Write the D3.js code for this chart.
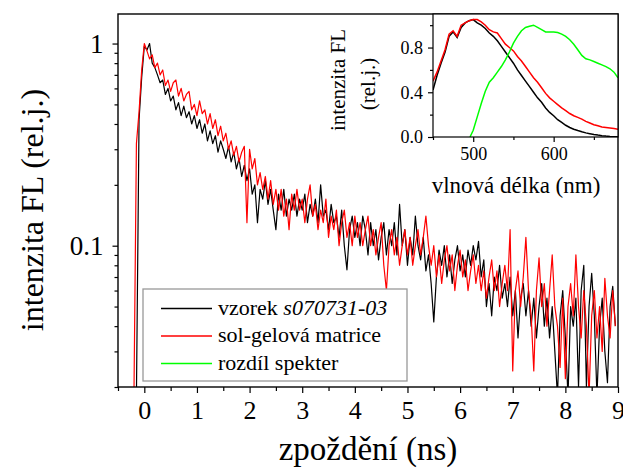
<!DOCTYPE html>
<html>
<head>
<meta charset="utf-8">
<script src="https://cdn.jsdelivr.net/npm/d3@7"></script>
<style>
  body { margin: 0; background: #fff; }
  svg text { font-family: 'Liberation Serif', 'Times New Roman', serif; fill: #000; }
</style>
</head>
<body>
<div id="chart"></div>
<script>
// fluorescence decay (ns), sampled every 0.05 ns starting at -0.2 ns
var decayCount = 184
var vzorek = [
  0.015, 0.018, 0.42, 0.68, 0.97, 0.93, 1.00, 0.80, 0.76, 0.70,
  0.64, 0.66, 0.56, 0.60, 0.52, 0.55, 0.47, 0.51, 0.44, 0.49,
  0.43, 0.46, 0.40, 0.44, 0.38, 0.42, 0.36, 0.40, 0.33, 0.37,
  0.32, 0.35, 0.29, 0.33, 0.30, 0.27, 0.31, 0.26, 0.29, 0.24,
  0.27, 0.22, 0.25, 0.21, 0.24, 0.18, 0.20, 0.13, 0.19, 0.17,
  0.21, 0.16, 0.19, 0.15, 0.12, 0.18, 0.15, 0.19, 0.14, 0.17,
  0.15, 0.18, 0.14, 0.17, 0.15, 0.18, 0.13, 0.16, 0.14, 0.17,
  0.13, 0.20, 0.14, 0.15, 0.12, 0.16, 0.13, 0.14, 0.11, 0.15,
  0.10, 0.076, 0.12, 0.14, 0.11, 0.13, 0.10, 0.14, 0.12, 0.09,
  0.13, 0.10, 0.12, 0.085, 0.11, 0.13, 0.09, 0.12, 0.10, 0.13,
  0.09, 0.16, 0.10, 0.12, 0.08, 0.11, 0.09, 0.14, 0.10, 0.085,
  0.11, 0.075, 0.09, 0.065, 0.042, 0.07, 0.095, 0.08, 0.10, 0.07,
  0.09, 0.065, 0.085, 0.10, 0.075, 0.09, 0.07, 0.095, 0.08, 0.10,
  0.085, 0.105, 0.07, 0.085, 0.05, 0.065, 0.045, 0.07, 0.06, 0.08,
  0.055, 0.065, 0.05, 0.07, 0.045, 0.06, 0.035, 0.055, 0.065, 0.045,
  0.06, 0.04, 0.055, 0.035, 0.05, 0.065, 0.04, 0.055, 0.035, 0.05,
  0.03, 0.018, 0.045, 0.06, 0.035, 0.018, 0.05, 0.04, 0.055, 0.02,
  0.06, 0.08, 0.02, 0.05, 0.073, 0.045, 0.018, 0.04, 0.055, 0.03,
  0.021, 0.05, 0.063, 0.04
]
var matrice = [
  0.015, 0.32, 0.46, 0.74, 1.00, 0.92, 0.84, 0.88, 0.76, 0.80,
  0.70, 0.74, 0.62, 0.66, 0.58, 0.64, 0.66, 0.55, 0.60, 0.52,
  0.56, 0.58, 0.47, 0.50, 0.44, 0.52, 0.45, 0.47, 0.40, 0.45,
  0.38, 0.42, 0.35, 0.39, 0.33, 0.36, 0.30, 0.33, 0.28, 0.31,
  0.26, 0.29, 0.31, 0.13, 0.30, 0.24, 0.27, 0.20, 0.23, 0.19,
  0.22, 0.17, 0.21, 0.16, 0.19, 0.15, 0.19, 0.14, 0.17, 0.12,
  0.18, 0.15, 0.19, 0.15, 0.17, 0.13, 0.17, 0.20, 0.14, 0.16,
  0.12, 0.15, 0.13, 0.17, 0.11, 0.14, 0.12, 0.15, 0.10, 0.13,
  0.15, 0.11, 0.13, 0.10, 0.14, 0.11, 0.13, 0.10, 0.12, 0.14,
  0.10, 0.12, 0.09, 0.11, 0.13, 0.08, 0.06, 0.10, 0.12, 0.09,
  0.11, 0.08, 0.10, 0.12, 0.09, 0.11, 0.08, 0.10, 0.12, 0.09,
  0.11, 0.14, 0.10, 0.08, 0.10, 0.07, 0.09, 0.065, 0.085, 0.10,
  0.075, 0.09, 0.06, 0.08, 0.095, 0.07, 0.085, 0.06, 0.075, 0.09,
  0.065, 0.08, 0.06, 0.075, 0.055, 0.07, 0.085, 0.06, 0.075, 0.05,
  0.065, 0.08, 0.06, 0.12, 0.024, 0.06, 0.075, 0.05, 0.07, 0.11,
  0.06, 0.045, 0.024, 0.06, 0.087, 0.05, 0.065, 0.04, 0.06, 0.09,
  0.05, 0.04, 0.025, 0.055, 0.022, 0.05, 0.065, 0.045, 0.09, 0.05,
  0.035, 0.06, 0.04, 0.018, 0.045, 0.06, 0.035, 0.05, 0.03, 0.069,
  0.045, 0.035, 0.06, 0.04
]

// inset spectra
var specWl = [450, 455, 460, 465, 470, 475, 480, 485, 490, 495, 500, 505, 510, 515, 520, 525, 530, 535, 540, 545,
  550, 555, 560, 565, 570, 575, 580, 585, 590, 595, 600, 605, 610, 615, 620, 625, 630, 635, 640, 645,
  650, 655, 660, 665, 670, 675, 680]
var specVzorek = [0.42, 0.55, 0.66, 0.76, 0.90, 0.94, 0.89, 0.98, 1.02, 1.04, 1.05, 1.02, 1.00, 0.97, 0.93, 0.90, 0.86, 0.81, 0.76, 0.71,
  0.66, 0.60, 0.55, 0.50, 0.45, 0.40, 0.35, 0.31, 0.26, 0.22, 0.19, 0.155, 0.13, 0.105, 0.085, 0.07, 0.058, 0.047, 0.037, 0.03,
  0.023, 0.017, 0.012, 0.008, 0.005, 0.003, 0.002]
var specMatrice = [0.50, 0.58, 0.68, 0.78, 0.92, 0.95, 0.90, 1.00, 1.02, 1.04, 1.05, 1.05, 1.03, 1.00, 0.96, 0.94, 0.93, 0.88, 0.83, 0.80,
  0.77, 0.72, 0.68, 0.63, 0.58, 0.53, 0.49, 0.44, 0.39, 0.35, 0.32, 0.29, 0.26, 0.235, 0.21, 0.19, 0.175, 0.16, 0.14, 0.125,
  0.11, 0.10, 0.09, 0.085, 0.08, 0.075, 0.07]
var diffWl = [496, 500, 505, 510, 515, 520, 525, 530, 535, 540, 545, 550, 555, 560, 565, 570, 575, 580, 585, 590,
  595, 600, 605, 610, 615, 620, 625, 630, 635, 640, 645, 650, 655, 660, 665, 670, 675, 680]
var specDiff = [0.0, 0.06, 0.18, 0.30, 0.41, 0.49, 0.53, 0.58, 0.63, 0.69, 0.76, 0.84, 0.90, 0.95, 0.98, 0.99, 1.00, 0.98, 0.96, 0.94,
  0.94, 0.94, 0.935, 0.92, 0.90, 0.87, 0.83, 0.78, 0.73, 0.70, 0.69, 0.675, 0.66, 0.645, 0.63, 0.61, 0.58, 0.53]

var mainXTicks = [0, 1, 2, 3, 4, 5, 6, 7, 8, 9]
var mainYLabels = [0.1, 1]
var insetXTicks = [500, 600]
var insetYTicks = [0.0, 0.4, 0.8]
var legendNames = ['vzorek ', 'sol-gelová matrice', 'rozdíl spekter']
var legendColors = ['#000000', '#ff0000', '#00ff00']

var width = 623
var height = 475
var fontStack = "'Liberation Serif', 'Times New Roman', serif"

var svg = d3.select('#chart').append('svg')
  .attr('width', width)
  .attr('height', height)

// ---------- main plot ----------
var plot = { left: 118, right: 618, top: 14, bottom: 387 }

var x = d3.scaleLinear().domain([-0.5, 9]).range([plot.left, plot.right])
var y = d3.scaleLog().domain([0.02, 1.4]).range([plot.bottom, plot.top])

var times = d3.range(decayCount).map(i => -0.2 + i * 0.05)

svg.append('clipPath').attr('id', 'clip-main')
  .append('rect')
  .attr('x', plot.left).attr('y', plot.top)
  .attr('width', plot.right - plot.left).attr('height', plot.bottom - plot.top)

var line = d3.line()
  .x(d => x(d[0]))
  .y(d => y(d[1]))

var series = [
  { values: vzorek, color: '#000000' },
  { values: matrice, color: '#ff0000' }
]

svg.selectAll('.decay')
  .data(series)
  .enter()
  .append('path')
  .attr('class', 'decay')
  .attr('clip-path', 'url(#clip-main)')
  .attr('d', s => line(s.values.map((v, i) => [times[i], v])))
  .attr('fill', 'none')
  .attr('stroke', s => s.color)
  .attr('stroke-width', 1.2)
  .attr('stroke-linejoin', 'round')

// x axis
var xMinor = d3.range(-0.5, 9.01, 0.5).filter(v => Math.abs(v - Math.round(v)) > 0.1)
svg.append('g')
  .attr('transform', 'translate(0,' + plot.bottom + ')')
  .call(d3.axisBottom(x).tickValues(xMinor).tickSize(4).tickFormat(''))
  .call(g => g.select('.domain').remove())
svg.append('g')
  .attr('transform', 'translate(0,' + plot.bottom + ')')
  .call(d3.axisBottom(x).tickValues(mainXTicks).tickSize(6).tickPadding(8).tickFormat(d3.format('d')))
  .call(g => g.select('.domain').remove())
  .selectAll('text')
  .attr('font-size', 26)
  .attr('font-family', fontStack)

// y axis
var yMinor = [0.02, 0.03, 0.04, 0.05, 0.06, 0.07, 0.08, 0.09, 0.2, 0.3, 0.4, 0.5, 0.6, 0.7, 0.8, 0.9]
svg.append('g')
  .attr('transform', 'translate(' + plot.left + ',0)')
  .call(d3.axisLeft(y).tickValues(yMinor).tickSize(3.5).tickFormat(''))
  .call(g => g.select('.domain').remove())
svg.append('g')
  .attr('transform', 'translate(' + plot.left + ',0)')
  .call(d3.axisLeft(y).tickValues(mainYLabels).tickSize(5.5).tickPadding(9).tickFormat(d => d === 1 ? '1' : '0.1'))
  .call(g => g.select('.domain').remove())
  .selectAll('text')
  .attr('font-size', 27)
  .attr('font-family', fontStack)

svg.selectAll('.tick line').attr('stroke', '#000').attr('stroke-width', 1.2)

// frame
svg.append('rect')
  .attr('x', plot.left).attr('y', plot.top)
  .attr('width', plot.right - plot.left).attr('height', plot.bottom - plot.top)
  .attr('fill', 'none')
  .attr('stroke', '#000')
  .attr('stroke-width', 1.4)

// axis titles
svg.append('text')
  .attr('x', (plot.left + plot.right) / 2)
  .attr('y', 460)
  .attr('text-anchor', 'middle')
  .attr('font-size', 33)
  .text('zpoždění (ns)')

svg.append('text')
  .attr('transform', 'translate(43,' + 210 + ') rotate(-90)')
  .attr('text-anchor', 'middle')
  .attr('font-size', 32)
  .text('intenzita FL (rel.j.)')

// ---------- legend ----------
var legend = svg.append('g').attr('class', 'legend')
legend.append('rect')
  .attr('x', 143).attr('y', 289)
  .attr('width', 264).attr('height', 92)
  .attr('fill', '#fff')
  .attr('stroke', '#999')
  .attr('stroke-width', 1.3)

var entries = legend.selectAll('.legend-entry')
  .data(legendNames)
  .enter()
  .append('g')
  .attr('class', 'legend-entry')
  .attr('transform', (d, i) => 'translate(0,' + (308.5 + i * 27.5) + ')')

entries.append('line')
  .attr('x1', 161).attr('x2', 212)
  .attr('y1', 0).attr('y2', 0)
  .attr('stroke', (d, i) => legendColors[i])
  .attr('stroke-width', 1.3)

var labels = entries.append('text')
  .attr('x', 218)
  .attr('y', 6)
  .attr('font-size', 22)
  .text(d => d)
labels.filter((d, i) => i === 0)
  .append('tspan')
  .attr('font-style', 'italic')
  .text('s070731-03')

// ---------- inset ----------
var inset = { left: 433, right: 618, top: 14, bottom: 137 }
var ix = d3.scaleLinear().domain([450, 680]).range([inset.left, inset.right])
var iy = d3.scaleLinear().domain([0, 1.1]).range([inset.bottom, inset.top])

svg.append('rect')
  .attr('x', inset.left).attr('y', inset.top)
  .attr('width', inset.right - inset.left).attr('height', inset.bottom - inset.top)
  .attr('fill', '#fff')

svg.append('clipPath').attr('id', 'clip-inset')
  .append('rect')
  .attr('x', inset.left).attr('y', inset.top)
  .attr('width', inset.right - inset.left).attr('height', inset.bottom - inset.top)

var specLine = d3.line()
  .x(d => ix(d[0]))
  .y(d => iy(d[1]))

var spectra = [
  { wl: specWl, values: specVzorek, color: '#000000' },
  { wl: specWl, values: specMatrice, color: '#ff0000' },
  { wl: diffWl, values: specDiff, color: '#00ff00' }
]

svg.selectAll('.spectrum')
  .data(spectra)
  .enter()
  .append('path')
  .attr('class', 'spectrum')
  .attr('clip-path', 'url(#clip-inset)')
  .attr('d', s => specLine(s.values.map((v, i) => [s.wl[i], v])))
  .attr('fill', 'none')
  .attr('stroke', s => s.color)
  .attr('stroke-width', 1.5)

svg.append('g')
  .attr('transform', 'translate(0,' + inset.bottom + ')')
  .call(d3.axisBottom(ix).tickValues([450, 550, 650]).tickSize(3).tickFormat(''))
  .call(g => g.select('.domain').remove())
svg.append('g')
  .attr('transform', 'translate(0,' + inset.bottom + ')')
  .call(d3.axisBottom(ix).tickValues(insetXTicks).tickSize(5).tickPadding(5).tickFormat(d3.format('d')))
  .call(g => g.select('.domain').remove())
  .selectAll('text')
  .attr('font-size', 18)
  .attr('font-family', fontStack)

svg.append('g')
  .attr('transform', 'translate(' + inset.left + ',0)')
  .call(d3.axisLeft(iy).tickValues([0.2, 0.6, 1.0]).tickSize(3).tickFormat(''))
  .call(g => g.select('.domain').remove())
svg.append('g')
  .attr('transform', 'translate(' + inset.left + ',0)')
  .call(d3.axisLeft(iy).tickValues(insetYTicks).tickSize(5).tickPadding(5).tickFormat(d3.format('.1f')))
  .call(g => g.select('.domain').remove())
  .selectAll('text')
  .attr('font-size', 18)
  .attr('font-family', fontStack)

svg.selectAll('.tick line').attr('stroke', '#000').attr('stroke-width', 1.2)

svg.append('rect')
  .attr('x', inset.left).attr('y', inset.top)
  .attr('width', inset.right - inset.left).attr('height', inset.bottom - inset.top)
  .attr('fill', 'none')
  .attr('stroke', '#000')
  .attr('stroke-width', 1.2)

svg.append('text')
  .attr('x', 516)
  .attr('y', 193)
  .attr('text-anchor', 'middle')
  .attr('font-size', 23)
  .text('vlnová délka (nm)')

svg.append('text')
  .attr('transform', 'translate(345,80) rotate(-90)')
  .attr('text-anchor', 'middle')
  .attr('font-size', 21)
  .text('intenzita FL')
svg.append('text')
  .attr('transform', 'translate(375,84) rotate(-90)')
  .attr('text-anchor', 'middle')
  .attr('font-size', 21)
  .text('(rel.j.)')
</script>
</body>
</html>
